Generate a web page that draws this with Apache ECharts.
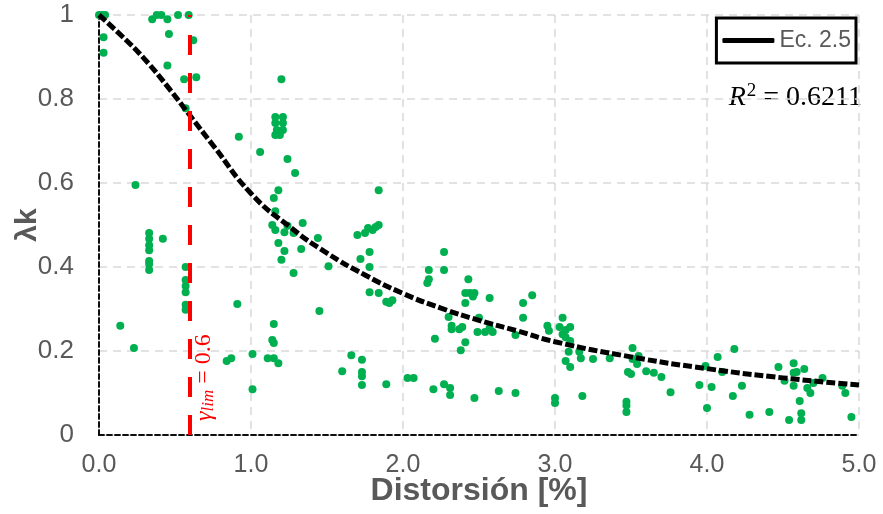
<!DOCTYPE html>
<html>
<head>
<meta charset="utf-8">
<script src="https://cdn.jsdelivr.net/npm/echarts@6/dist/echarts.min.js"></script>
<style>
  html, body { margin: 0; padding: 0; background: #fff; }
  #main { width: 883px; height: 514px; }
</style>
</head>
<body>
<div id="main"></div>
<script>
// puntos medidos (distorsion %, lambda k)
var pointX = [
  0, 0.02, 0.04, 0.03, 0.03,
  0.35, 0.38, 0.41, 0.45, 0.52, 0.59,
  0.46, 0.62, 0.45, 0.56, 0.64, 0.57,
  0.24, 0.33, 0.33, 0.33, 0.33, 0.33, 0.33, 0.33, 0.42,
  0.57, 0.57, 0.57, 0.57, 0.57, 0.57,
  0.14, 0.23, 0.84, 0.87, 0.91, 0.92,
  1.2, 1.16, 1.21, 1.16, 1.21, 1.17, 1.21, 1.16, 1.19, 1.06, 1.24, 1.29, 1.18, 1.15, 1.16,
  1.14, 1.16, 1.22, 1.24, 1.28, 1.34, 1.44, 1.18, 1.22, 1.33, 1.2, 1.28, 1.51, 1.45,
  1.01, 1.01, 1.11, 1.15, 1.14, 1.15, 1.15, 1.18,
  1.84, 1.70, 1.75, 1.80, 1.82, 1.84, 1.77, 1.78, 1.72, 1.78, 1.78, 1.84, 1.89, 1.93, 1.91,
  1.66, 1.73, 1.6, 1.73, 1.73, 1.73, 1.89, 2.03, 2.07,
  2.17, 2.16, 2.17, 2.27, 2.27, 2.43, 2.41, 2.44, 2.47, 2.46, 2.41, 2.57, 2.79, 2.85, 2.79,
  2.3, 2.32, 2.32, 2.37, 2.39, 2.5, 2.49, 2.54, 2.59, 2.57, 2.74, 2.21, 2.41, 2.38, 2.95, 2.96,
  2.2, 2.27, 2.31, 2.31, 2.47, 2.63, 2.74, 3.0, 3.0,
  3.05, 3.03, 3.07, 3.1, 3.05, 3.07, 3.1, 3.09, 3.07, 3.1, 3.17, 3.16, 3.25, 3.36, 3.51, 3.51,
  3.48, 3.5, 3.18, 3.47, 3.47, 3.47,
  3.55, 3.54, 3.6, 3.65, 3.7, 3.76, 3.95, 3.99, 4.07, 4.03, 4.18, 4.1, 4.0, 4.17, 4.23, 4.28,
  4.41, 4.47, 4.51, 4.57, 4.57, 4.59, 4.64, 4.57, 4.66, 4.68, 4.61, 4.54, 4.62, 4.62, 4.7,
  4.76, 4.89, 4.91, 4.95
];
var pointY = [
  1, 1, 1, 0.947, 0.91,
  0.99, 1, 1, 0.99, 1, 1,
  0.955, 0.94, 0.88, 0.847, 0.852, 0.778,
  0.595, 0.481, 0.467, 0.452, 0.44, 0.414, 0.407, 0.393, 0.467,
  0.4, 0.369, 0.355, 0.34, 0.31, 0.298,
  0.26, 0.207, 0.176, 0.183, 0.312, 0.71,
  0.847, 0.757, 0.757, 0.743, 0.743, 0.726, 0.726, 0.714, 0.714, 0.674, 0.657, 0.624, 0.583, 0.564, 0.533,
  0.5, 0.488, 0.483, 0.498, 0.481, 0.505, 0.469, 0.457, 0.438, 0.443, 0.417, 0.386, 0.402, 0.295,
  0.193, 0.109, 0.183, 0.264, 0.226, 0.219, 0.183, 0.171,
  0.583, 0.476, 0.481, 0.488, 0.495, 0.5, 0.493, 0.436, 0.419, 0.4, 0.34, 0.338, 0.317, 0.321, 0.314,
  0.19, 0.179, 0.152, 0.15, 0.14, 0.119, 0.121, 0.136, 0.136,
  0.393, 0.362, 0.371, 0.436, 0.393, 0.371, 0.338, 0.338, 0.338, 0.33, 0.314, 0.326, 0.314, 0.333, 0.279,
  0.281, 0.26, 0.252, 0.252, 0.257, 0.279, 0.245, 0.245, 0.245, 0.255, 0.238, 0.229, 0.221, 0.202, 0.26, 0.248,
  0.109, 0.121, 0.112, 0.095, 0.088, 0.105, 0.1, 0.088, 0.076,
  0.279, 0.257, 0.25, 0.257, 0.24, 0.233, 0.224, 0.198, 0.176, 0.162, 0.183, 0.198, 0.181, 0.183, 0.207, 0.181,
  0.15, 0.145, 0.093, 0.079, 0.07, 0.055,
  0.188, 0.169, 0.152, 0.148, 0.138, 0.102, 0.119, 0.164, 0.186, 0.114, 0.205, 0.15, 0.064, 0.093, 0.117, 0.048,
  0.055, 0.162, 0.129, 0.171, 0.148, 0.15, 0.157, 0.117, 0.112, 0.1, 0.081, 0.036, 0.052, 0.036, 0.124,
  0.136, 0.117, 0.1, 0.043
];

// curva Ec. 2.5
var curveX = [0, 0.15, 0.3, 0.45, 0.6, 0.75, 1.0, 1.25, 1.5, 1.75, 2.0, 2.25, 2.5, 2.75, 3.0, 3.5, 4.0, 4.5, 5.0];
var curveY = [1.0, 0.95, 0.895, 0.83, 0.76, 0.69, 0.575, 0.497, 0.433, 0.381, 0.337, 0.302, 0.273, 0.248, 0.222, 0.186, 0.158, 0.136, 0.119];

var gammaLim = 0.6;
var r2 = '0.6211';
var xTicks = ['0.0', '1.0', '2.0', '3.0', '4.0', '5.0'];
var yTicks = ['0', '0.2', '0.4', '0.6', '0.8', '1'];

var points = [];
for (var i = 0; i < pointX.length; i++) {
  points.push([pointX[i], pointY[i]]);
}
var curve = [];
for (var j = 0; j < curveX.length; j++) {
  curve.push([curveX[j], curveY[j]]);
}

var gray = '#595959';
var sans = "'Liberation Sans Narrow', 'Arial Narrow', 'Liberation Sans', Arial, sans-serif";
var serif = "'Liberation Serif', 'DejaVu Serif', serif";
var border = { show: true, lineStyle: { color: '#000', width: 1.5, type: [5, 3] } };
var grid = { show: true, lineStyle: { color: '#d9d9d9', width: 1.5, type: [8, 6] } };

var myChart = echarts.init(document.getElementById('main'));
myChart.setOption({
  animation: false,
  backgroundColor: '#fff',
  grid: { left: 99, right: 24, top: 15, bottom: 79, containLabel: false, outerBoundsMode: 'none' },
  legend: {
    right: 27, top: 18,
    data: [{ name: 'Ec. 2.5' }],
    icon: 'roundRect',
    itemWidth: 52, itemHeight: 5, itemGap: 0,
    itemStyle: { color: '#000' },
    padding: [11, 5, 11, 6],
    borderColor: '#000', borderWidth: 3,
    textStyle: { color: gray, fontSize: 23, fontFamily: 'Liberation Sans', padding: [0, 0, 0, 0] }
  },
  xAxis: [{
    type: 'value', min: 0, max: 5, interval: 1,
    name: 'Distorsión [%]', nameLocation: 'middle', nameGap: 40, nameMoveOverlap: false,
    nameTextStyle: { color: gray, fontSize: 32, fontWeight: 'bold', fontFamily: sans },
    axisLine: border, axisTick: { show: false }, splitLine: grid,
    axisLabel: {
      color: gray, fontSize: 25, fontFamily: sans, margin: 18,
      formatter: function (v) { return xTicks[Math.round(v)]; }
    }
  }, {
    type: 'value', min: 0, max: 5, position: 'top',
    axisLine: border, axisTick: { show: false }, axisLabel: { show: false }, splitLine: { show: false }
  }],
  yAxis: [{
    type: 'value', min: 0, max: 1, interval: 0.2,
    name: 'λk', nameLocation: 'middle', nameGap: 56, nameRotate: 90, nameMoveOverlap: false,
    nameTextStyle: { color: gray, fontSize: 30, fontWeight: 'bold', fontFamily: 'Liberation Sans' },
    axisLine: border, axisTick: { show: false }, splitLine: grid,
    axisLabel: {
      color: gray, fontSize: 26, fontFamily: 'Liberation Sans', margin: 25,
      formatter: function (v) { return yTicks[Math.round(v * 5)]; }
    }
  }, {
    type: 'value', min: 0, max: 1, position: 'right',
    axisLine: border, axisTick: { show: false }, axisLabel: { show: false }, splitLine: { show: false }
  }],
  series: [{
    name: 'datos',
    type: 'scatter',
    data: points,
    symbolSize: 8,
    itemStyle: { color: '#00b050', opacity: 1 },
    z: 3,
    markLine: {
      silent: true,
      symbol: 'none',
      lineStyle: { color: '#ff0000', width: 4, type: [20, 18] },
      label: {
        show: true,
        position: 'insideStartBottom',
        distance: [14, 1],
        formatter: '{g|γ}{s|lim}{t| = 0.6}',
        rich: {
          g: { color: '#ff0000', fontSize: 24, fontStyle: 'italic', fontFamily: serif },
          s: { color: '#ff0000', fontSize: 17, fontStyle: 'italic', fontFamily: serif, padding: [9, 0, 0, 0] },
          t: { color: '#ff0000', fontSize: 24, fontFamily: serif }
        }
      },
      data: [[{ coord: [gammaLim, 0] }, { coord: [gammaLim, 1] }]]
    }
  }, {
    name: 'Ec. 2.5',
    type: 'line',
    data: curve,
    smooth: 0.5,
    symbol: 'none',
    itemStyle: { color: '#000' },
    lineStyle: { color: '#000', width: 5, type: [9, 3] },
    z: 4
  }],
  graphic: [{
    type: 'text',
    right: 21, top: 82,
    style: {
      text: '{r|R}{p|2}{t| = ' + r2 + '}',
      rich: {
        r: { fontSize: 28, fontStyle: 'italic', fontFamily: serif, fill: '#000' },
        p: { fontSize: 19, fontFamily: serif, fill: '#000', padding: [0, 0, 12, 1] },
        t: { fontSize: 28, fontFamily: serif, fill: '#000' }
      }
    }
  }]
});
</script>
</body>
</html>
